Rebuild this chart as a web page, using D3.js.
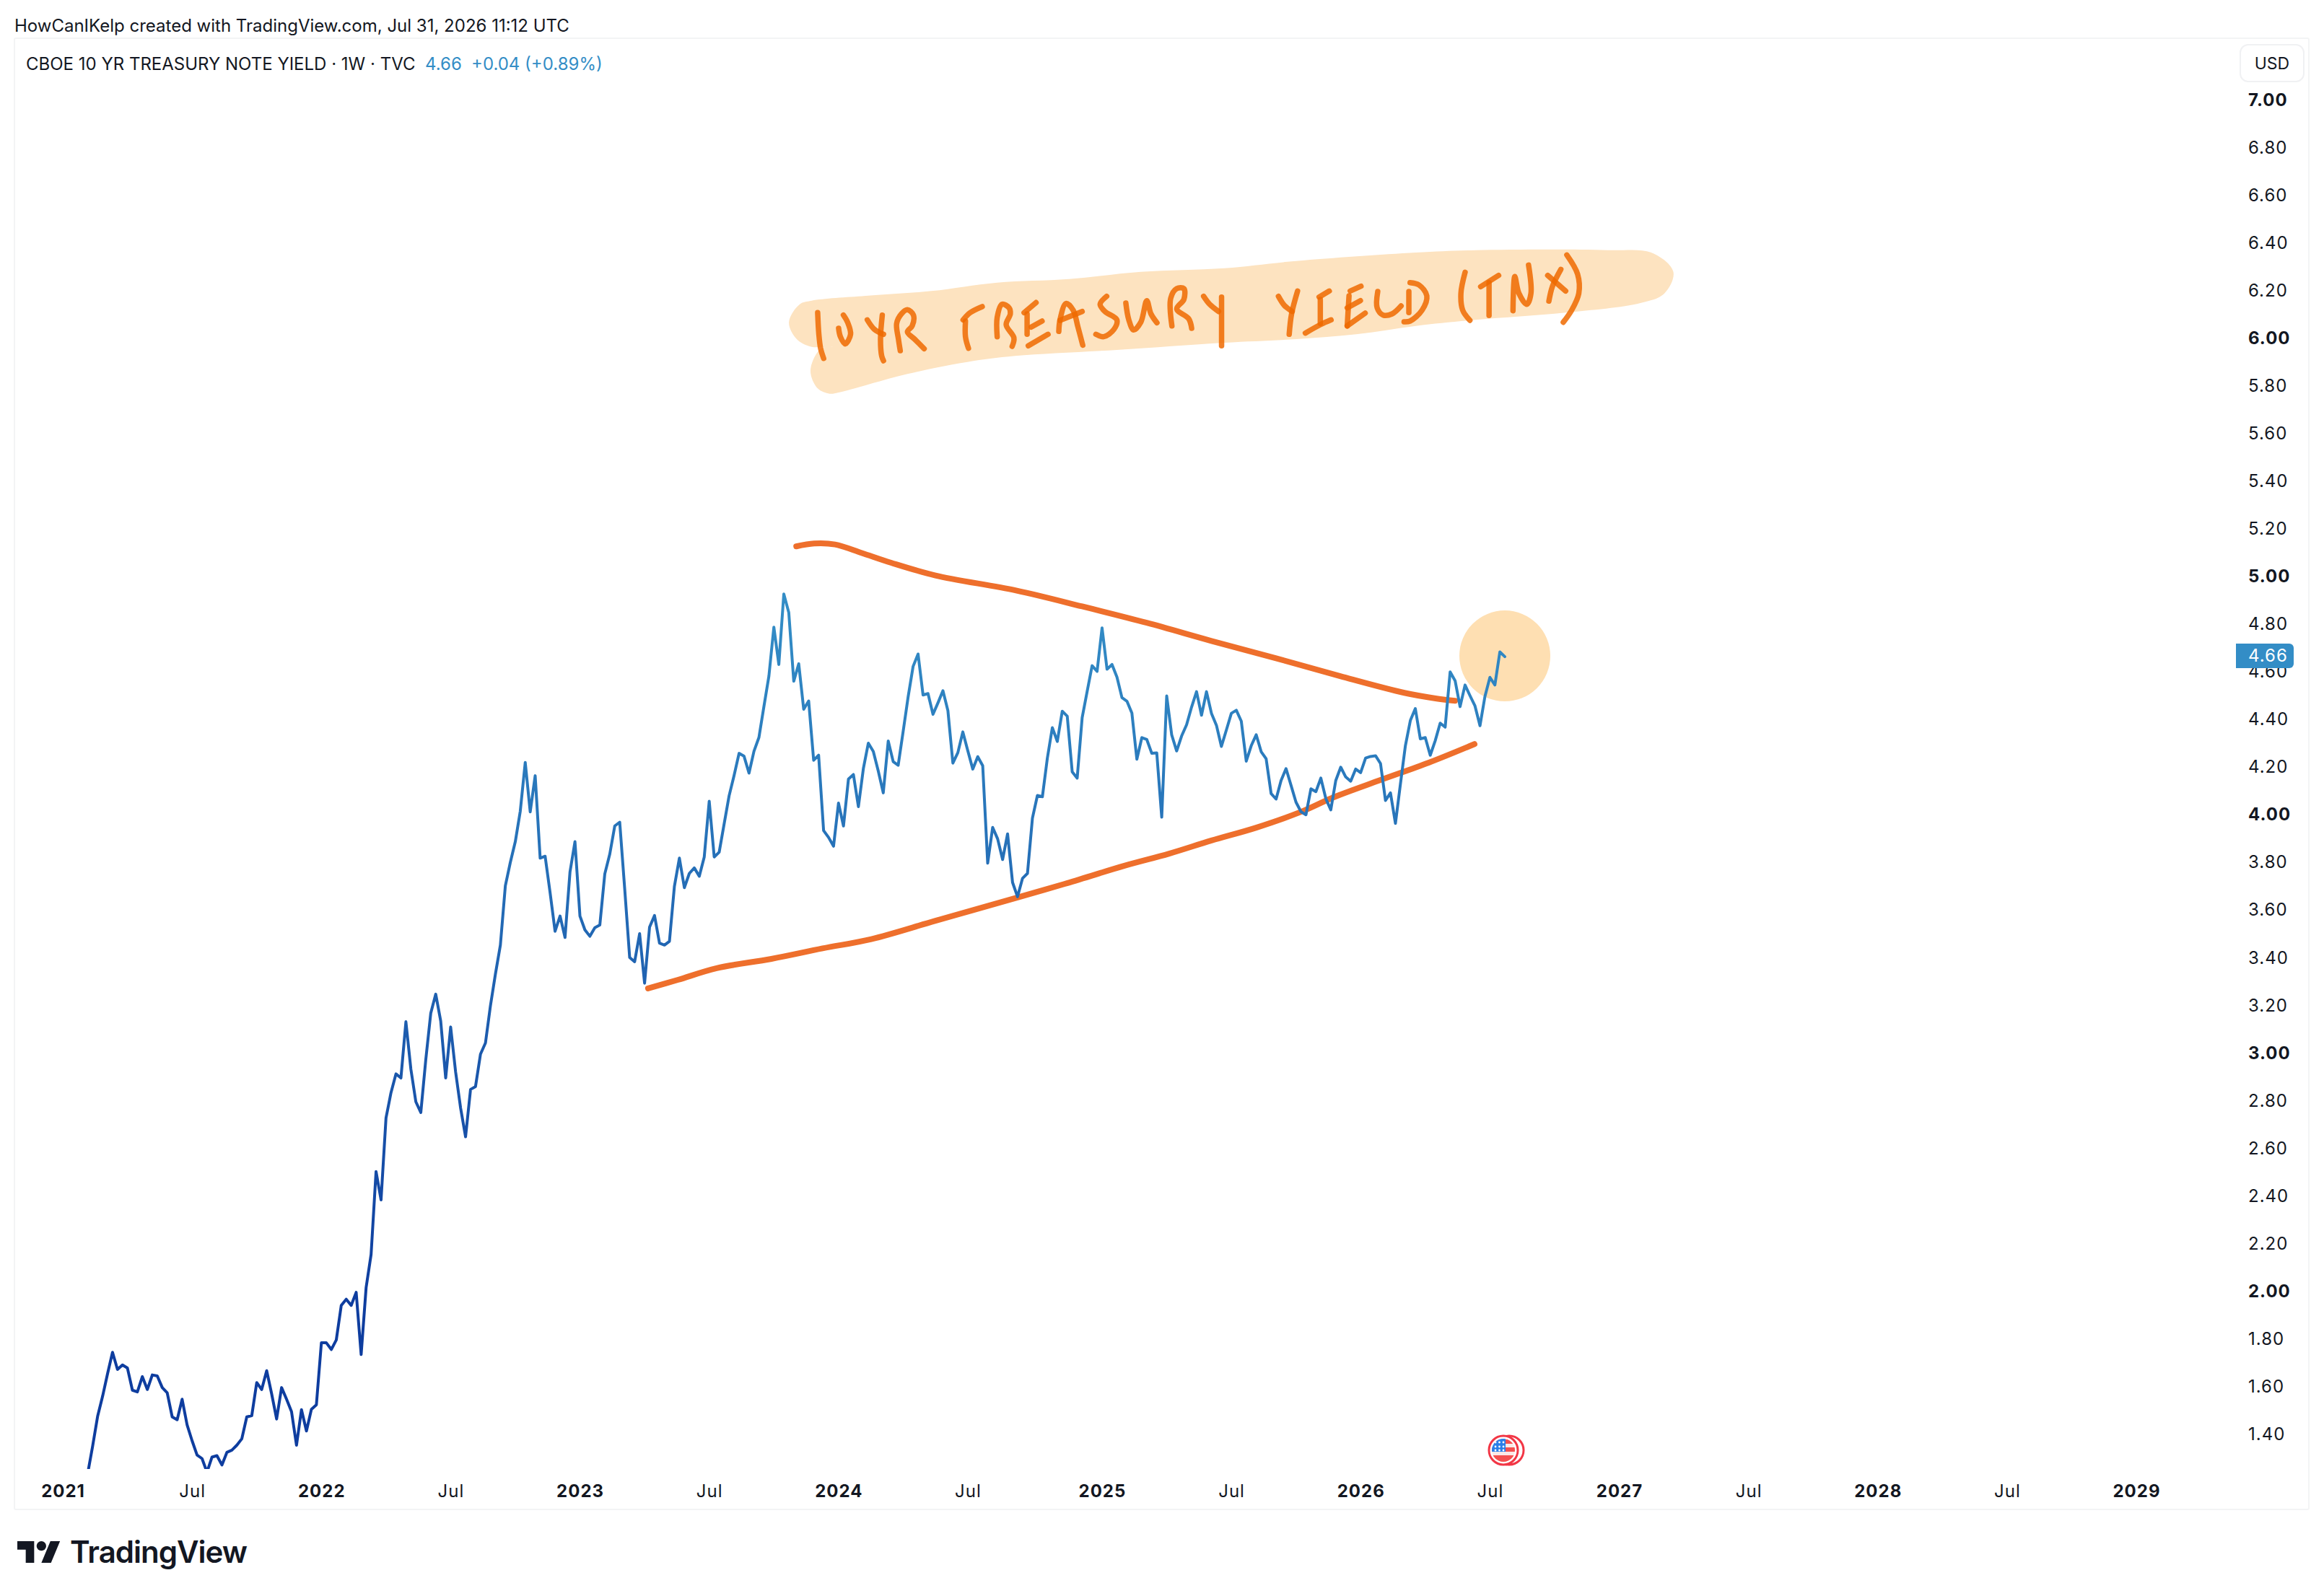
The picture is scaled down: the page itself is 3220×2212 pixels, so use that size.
<!DOCTYPE html>
<html>
<head>
<meta charset="utf-8">
<title>CBOE 10 YR TREASURY NOTE YIELD</title>
<script src="https://cdn.jsdelivr.net/npm/d3@7"></script>
<style>
  body { margin: 0; background: #fff; }
  text { font-family: Inter, "Noto Sans", sans-serif; fill: #131722; }
  .axis .domain { display: none; }
  .axis text { font-size: 24px; letter-spacing: 1px; }
  .axis text.major { font-weight: 700; }
</style>
</head>
<body>
<script>
const width = 3220,
  height = 2212;

const FIRST_WEEK = Date.UTC(2021, 0, 4);
const WEEK = 7 * 24 * 3600 * 1000;
const FIRST_BAR = 5;

// weekly closes, first bar is week 5 after FIRST_WEEK
const yieldValues = [
  1.233, 1.349, 1.474, 1.558, 1.653, 1.743,
  1.671, 1.690, 1.677, 1.584, 1.577, 1.641, 1.587, 1.648, 1.644, 1.595,
  1.573, 1.472, 1.460, 1.546, 1.438, 1.372, 1.312, 1.297, 1.240, 1.303,
  1.309, 1.270, 1.323, 1.332, 1.353, 1.380, 1.472, 1.477, 1.616, 1.587,
  1.666, 1.569, 1.463, 1.595, 1.546, 1.494, 1.353, 1.502, 1.413, 1.504,
  1.523, 1.783, 1.783, 1.755, 1.795, 1.940, 1.966, 1.940, 1.995, 1.734,
  2.015, 2.154, 2.502, 2.383, 2.727, 2.833, 2.912, 2.895, 3.131, 2.932,
  2.795, 2.750, 2.972, 3.167, 3.247, 3.134, 2.895, 3.109, 2.920, 2.769,
  2.648, 2.847, 2.859, 2.995, 3.042, 3.198, 3.331, 3.453, 3.702, 3.800,
  3.887, 4.015, 4.220, 4.012, 4.164, 3.818, 3.826, 3.673, 3.511, 3.575,
  3.485, 3.760, 3.887, 3.575, 3.517, 3.490, 3.526, 3.537, 3.752, 3.835,
  3.953, 3.969, 3.690, 3.401, 3.383, 3.501, 3.293, 3.528, 3.577, 3.461,
  3.453, 3.469, 3.700, 3.818, 3.694, 3.754, 3.777, 3.742, 3.823, 4.057,
  3.823, 3.843, 3.962, 4.080, 4.165, 4.258, 4.246, 4.175, 4.267, 4.325,
  4.455, 4.582, 4.788, 4.631, 4.927, 4.849, 4.561, 4.634, 4.443, 4.478,
  4.229, 4.250, 3.934, 3.905, 3.868, 4.049, 3.953, 4.150, 4.169, 4.034,
  4.194, 4.301, 4.266, 4.183, 4.092, 4.310, 4.223, 4.208, 4.350, 4.495,
  4.623, 4.675, 4.503, 4.509, 4.422, 4.470, 4.521, 4.437, 4.217, 4.261,
  4.348, 4.269, 4.192, 4.244, 4.206, 3.797, 3.947, 3.899, 3.812, 3.920,
  3.716, 3.656, 3.733, 3.754, 3.986, 4.081, 4.076, 4.238, 4.366, 4.308,
  4.435, 4.414, 4.180, 4.154, 4.408, 4.518, 4.626, 4.602, 4.785, 4.611,
  4.631, 4.578, 4.492, 4.477, 4.427, 4.233, 4.324, 4.316, 4.258, 4.260,
  3.990, 4.499, 4.336, 4.268, 4.331, 4.378, 4.452, 4.517, 4.418, 4.517,
  4.426, 4.376, 4.287, 4.356, 4.426, 4.439, 4.393, 4.225, 4.290, 4.336,
  4.265, 4.235, 4.089, 4.066, 4.144, 4.194, 4.124, 4.053, 4.013, 4.000,
  4.109, 4.097, 4.154, 4.068, 4.021, 4.144, 4.200, 4.159, 4.141, 4.192,
  4.177, 4.238, 4.245, 4.248, 4.215, 4.060, 4.092, 3.964, 4.129, 4.290,
  4.396, 4.446, 4.319, 4.324, 4.250, 4.311, 4.385, 4.368, 4.600, 4.563,
  4.454, 4.545, 4.500, 4.457, 4.374, 4.497, 4.577, 4.545, 4.684, 4.664
];

const priceTicks = [
  7.0, 6.8, 6.6, 6.4, 6.2, 6.0, 5.8, 5.6, 5.4, 5.2, 5.0, 4.8, 4.6, 4.4, 4.2,
  4.0, 3.8, 3.6, 3.4, 3.2, 3.0, 2.8, 2.6, 2.4, 2.2, 2.0, 1.8, 1.6, 1.4
];

const timeTicks = [
  "2021-01-04", "2021-07-05", "2022-01-03", "2022-07-04", "2023-01-02",
  "2023-07-03", "2024-01-01", "2024-07-01", "2025-01-06", "2025-07-07",
  "2026-01-05", "2026-07-06", "2027-01-04", "2027-07-05", "2028-01-03",
  "2028-07-03", "2029-01-01"
];
const timeLabels = [
  "2021", "Jul", "2022", "Jul", "2023", "Jul", "2024", "Jul", "2025", "Jul",
  "2026", "Jul", "2027", "Jul", "2028", "Jul", "2029"
];

// the two hand drawn trend lines: week number, yield
const lowerTrendWeeks = [117.7, 123.7, 131.5, 142.5, 152.8, 162.6, 175.5, 192, 201.5, 213.5, 222.5, 231, 240, 249.2, 255.4, 265, 274.7, 283.9];
const lowerTrendValues = [3.271, 3.307, 3.356, 3.395, 3.439, 3.478, 3.555, 3.653, 3.71, 3.786, 3.837, 3.892, 3.946, 4.014, 4.072, 4.146, 4.219, 4.297];
const upperTrendWeeks = [147.5, 151.1, 155.3, 160.7, 166.6, 175.5, 191.7, 205, 218, 231, 244, 256.9, 269.8, 276.3, 280];
const upperTrendValues = [5.127, 5.139, 5.135, 5.099, 5.058, 5.005, 4.942, 4.875, 4.806, 4.73, 4.657, 4.582, 4.512, 4.488, 4.479];

// highlighter band and handwriting, in the drawing tool's own sketch units
const bandOutline = [
  [90, 290], [180, 270], [290, 250], [400, 215], [520, 200], [640, 170], [780, 155], [900, 125],
  [1100, 90], [1200, 80], [1420, 80], [1495, 92], [1530, 170], [1515, 260], [1475, 300],
  [1350, 340], [1200, 370], [1100, 395], [1000, 430], [900, 450], [780, 465], [600, 495],
  [430, 520], [350, 545], [250, 595], [135, 672], [120, 677], [100, 655], [88, 580], [105, 490],
  [125, 480], [90, 482], [65, 450], [52, 380], [70, 305]
];
const handStrokes = [
  [[100, 340], [102, 430], [105, 490], [110, 530]],
  [[135, 405], [138, 440], [146, 470], [155, 430], [150, 380], [143, 350]],
  [[183, 370], [195, 410], [210, 430]],
  [[208, 350], [205, 450], [207, 520], [210, 540]],
  [[238, 498], [235, 450], [232, 385], [240, 345], [250, 328], [260, 350], [258, 395], [250, 420], [262, 450], [278, 490]],
  [[375, 315], [355, 340], [343, 370]],
  [[347, 375], [347, 440], [352, 488]],
  [[400, 440], [400, 360], [408, 305], [420, 320], [422, 345], [415, 390], [428, 445], [425, 480]],
  [[465, 298], [445, 340]],
  [[450, 345], [450, 430]],
  [[475, 375], [457, 400]],
  [[485, 430], [452, 478]],
  [[503, 418], [505, 370], [515, 302], [527, 330], [535, 400], [543, 475]],
  [[505, 372], [542, 335]],
  [[583, 272], [572, 305], [580, 335], [600, 370], [595, 410], [578, 440], [565, 430]],
  [[615, 300], [620, 370], [628, 412], [640, 380], [650, 290], [657, 345], [667, 382]],
  [[692, 395], [690, 280], [700, 240], [712, 240], [712, 285], [700, 325], [720, 365], [725, 405]],
  [[745, 272], [755, 305], [770, 335]],
  [[775, 275], [775, 478]],
  [[870, 272], [880, 310], [893, 335]],
  [[902, 250], [892, 345], [888, 430]],
  [[938, 275], [955, 250]],
  [[940, 285], [940, 385]],
  [[958, 370], [940, 390], [915, 425]],
  [[988, 270], [985, 395]],
  [[1008, 230], [990, 250]],
  [[1007, 290], [985, 320]],
  [[1015, 342], [985, 395]],
  [[1036, 252], [1035, 320], [1045, 350], [1060, 345], [1075, 312]],
  [[1088, 252], [1088, 340]],
  [[1090, 215], [1105, 225], [1118, 270], [1110, 330], [1090, 375], [1080, 378]],
  [[1182, 172], [1175, 260], [1178, 330], [1190, 372]],
  [[1238, 185], [1208, 232]],
  [[1222, 215], [1222, 352]],
  [[1262, 332], [1265, 190], [1272, 260], [1285, 305], [1292, 260], [1288, 142]],
  [[1320, 185], [1350, 250]],
  [[1342, 160], [1328, 230], [1322, 292]],
  [[1352, 100], [1370, 180], [1372, 260], [1360, 330], [1346, 380]]
];

const weekDate = k => new Date(FIRST_WEEK + k * WEEK);
const bars = yieldValues.map((v, i) => ({ date: weekDate(FIRST_BAR + i), value: v }));
const last = bars[bars.length - 1];

const x = d3
  .scaleUtc()
  .domain([weekDate(0), weekDate(417)])
  .range([87, 2960]);

const y = d3
  .scaleLinear()
  .domain([7, 1.4])
  .range([139, 1987.5]);

const sketchX = d3.scaleLinear().domain([0, 1568]).range([1050, 2350]);
const sketchY = d3.scaleLinear().domain([0, 750]).range([320, 570]);

const svg = d3
  .select("body")
  .append("svg")
  .attr("width", width)
  .attr("height", height)
  .style("display", "block");

const defs = svg.append("defs");

defs
  .append("clipPath")
  .attr("id", "plot")
  .append("rect")
  .attr("x", 20)
  .attr("y", 53)
  .attr("width", 3179)
  .attr("height", 1983);

const lineGradient = defs
  .append("linearGradient")
  .attr("id", "lineGradient")
  .attr("gradientUnits", "userSpaceOnUse")
  .attr("x1", 0)
  .attr("x2", 0)
  .attr("y1", 840)
  .attr("y2", 1800);
lineGradient.append("stop").attr("offset", 0).attr("stop-color", "#338dc6");
lineGradient.append("stop").attr("offset", 1).attr("stop-color", "#0e3d9f");

// chart frame
svg
  .append("rect")
  .attr("x", 20)
  .attr("y", 53)
  .attr("width", 3179)
  .attr("height", 2039)
  .attr("rx", 2)
  .attr("fill", "none")
  .attr("stroke", "#f3f4f5")
  .attr("stroke-width", 2);

// header texts
svg
  .append("text")
  .attr("x", 20)
  .attr("y", 36)
  .attr("dy", ".35em")
  .style("font-size", "24px")
  .text("HowCanIKelp created with TradingView.com, Jul 31, 2026 11:12 UTC");

const legend = svg
  .append("text")
  .attr("x", 36)
  .attr("y", 89)
  .attr("dy", ".35em")
  .style("font-size", "24px");
legend.append("tspan").text("CBOE 10 YR TREASURY NOTE YIELD · 1W · TVC");
legend
  .append("tspan")
  .attr("x", 589)
  .style("fill", "#338dc6")
  .text("4.66");
legend
  .append("tspan")
  .attr("x", 653)
  .style("fill", "#338dc6")
  .text("+0.04 (+0.89%)");

// highlighter band behind the handwriting
const sketchLine = d3
  .line()
  .x(d => sketchX(d[0]))
  .y(d => sketchY(d[1]));

svg
  .append("path")
  .attr("d", sketchLine.curve(d3.curveCatmullRomClosed)(bandOutline))
  .attr("fill", "#fde3c0");

svg
  .append("g")
  .attr("aria-label", "10YR TREASURY YIELD (TNX)")
  .selectAll("path")
  .data(handStrokes)
  .enter()
  .append("path")
  .attr("d", sketchLine.curve(d3.curveCatmullRom))
  .attr("fill", "none")
  .attr("stroke", "#ee6a00")
  .attr("stroke-opacity", 0.85)
  .attr("stroke-width", 7.5)
  .attr("stroke-linecap", "round")
  .attr("stroke-linejoin", "round");

// circle around the last close
svg
  .append("circle")
  .attr("cx", x(last.date))
  .attr("cy", y(last.value) - 1)
  .attr("r", 63)
  .attr("fill", "#fedfb2");

// trend lines
const trendLine = d3
  .line()
  .x(d => x(weekDate(d[0])))
  .y(d => y(d[1]))
  .curve(d3.curveCatmullRom);

[
  [lowerTrendWeeks, lowerTrendValues],
  [upperTrendWeeks, upperTrendValues]
].forEach(([weeks, values]) => {
  svg
    .append("path")
    .attr("d", trendLine(weeks.map((k, i) => [k, values[i]])))
    .attr("fill", "none")
    .attr("stroke", "#ee6f2c")
    .attr("stroke-width", 8)
    .attr("stroke-linecap", "round");
});

// price line
const priceLine = d3
  .line()
  .x(d => x(d.date))
  .y(d => y(d.value));

svg
  .append("path")
  .attr("clip-path", "url(#plot)")
  .attr("d", priceLine(bars))
  .attr("fill", "none")
  .attr("stroke", "url(#lineGradient)")
  .attr("stroke-width", 4)
  .attr("stroke-linejoin", "round")
  .attr("stroke-linecap", "round");

// axes
const yAxis = svg
  .append("g")
  .attr("class", "axis")
  .attr("transform", "translate(3115, 0)")
  .call(
    d3
      .axisRight(y)
      .tickValues(priceTicks)
      .tickFormat(d3.format(".2f"))
      .tickSize(0)
      .tickPadding(0)
  );
yAxis.selectAll("text").classed("major", d => Number.isInteger(d));

const xAxis = svg
  .append("g")
  .attr("class", "axis")
  .attr("transform", "translate(0, 2067)")
  .call(
    d3
      .axisBottom(x)
      .tickValues(timeTicks.map(d => new Date(d + "T00:00:00Z")))
      .tickFormat((d, i) => timeLabels[i])
      .tickSize(0)
      .tickPadding(0)
  );
xAxis
  .selectAll("text")
  .attr("y", 0)
  .attr("dy", ".35em")
  .classed("major", (d, i) => timeLabels[i] !== "Jul");

// last price label
const priceTag = svg
  .append("g")
  .attr("transform", `translate(0, ${y(last.value) - 1})`);
priceTag
  .append("path")
  .attr("d", "M3098,-17H3172a6,6 0 0 1 6,6V11a6,6 0 0 1 -6,6H3098Z")
  .attr("fill", "#338dc6");
priceTag
  .append("text")
  .attr("x", 3115)
  .attr("dy", ".35em")
  .style("font-size", "24px")
  .style("letter-spacing", "1px")
  .style("fill", "#fff")
  .text(d3.format(".2f")(last.value));

// currency button
svg
  .append("rect")
  .attr("x", 3104)
  .attr("y", 62)
  .attr("width", 88)
  .attr("height", 51)
  .attr("rx", 11)
  .attr("fill", "#fff")
  .attr("stroke", "#f0f1f3")
  .attr("stroke-width", 2);
svg
  .append("text")
  .attr("x", 3148)
  .attr("y", 88)
  .attr("dy", ".35em")
  .attr("text-anchor", "middle")
  .style("font-size", "23px")
  .text("USD");

// economic event flag on the time axis
const flag = svg
  .append("g")
  .attr("transform", `translate(${x(new Date("2026-07-27T00:00:00Z")) - 2}, 2010)`);
flag
  .append("circle")
  .attr("cx", 8)
  .attr("r", 20)
  .attr("fill", "#fff")
  .attr("stroke", "#f23645")
  .attr("stroke-width", 3);
flag
  .append("circle")
  .attr("r", 20)
  .attr("fill", "#fff")
  .attr("stroke", "#f23645")
  .attr("stroke-width", 3);
defs
  .append("clipPath")
  .attr("id", "flagClip")
  .append("circle")
  .attr("r", 16);
const flagInner = flag.append("g").attr("clip-path", "url(#flagClip)");
flagInner
  .append("rect")
  .attr("x", -16)
  .attr("y", -16)
  .attr("width", 32)
  .attr("height", 32)
  .attr("fill", "#fbe9e7");
[-15, -4, 7].forEach(top => {
  flagInner
    .append("rect")
    .attr("x", -16)
    .attr("y", top)
    .attr("width", 32)
    .attr("height", top === 7 ? 9 : 6)
    .attr("fill", "#f4504f");
});
flagInner
  .append("rect")
  .attr("x", -16)
  .attr("y", -16)
  .attr("width", 19)
  .attr("height", 18)
  .attr("fill", "#2b7fe8");
flagInner
  .selectAll("circle.star")
  .data([-11, -5, 0].flatMap(cy => [-11, -5.5, 0].map(cx => [cx, cy])))
  .enter()
  .append("circle")
  .attr("cx", d => d[0])
  .attr("cy", d => d[1] + 0)
  .attr("r", 1.4)
  .attr("fill", "#fff");

// logo
const logo = svg.append("g").attr("transform", "translate(24, 2129.3) scale(1.667)");
logo.append("path").attr("d", "M14 22H7V11H0V4h14v18zM28 22h-8l7.5-18h8L28 22z").attr("fill", "#131722");
logo.append("circle").attr("cx", 20).attr("cy", 8).attr("r", 4).attr("fill", "#131722");
svg
  .append("text")
  .attr("x", 97)
  .attr("y", 2166)
  .style("font-size", "42px")
  .style("font-weight", 600)
  .style("letter-spacing", "-1px")
  .text("TradingView");
</script>
</body>
</html>
